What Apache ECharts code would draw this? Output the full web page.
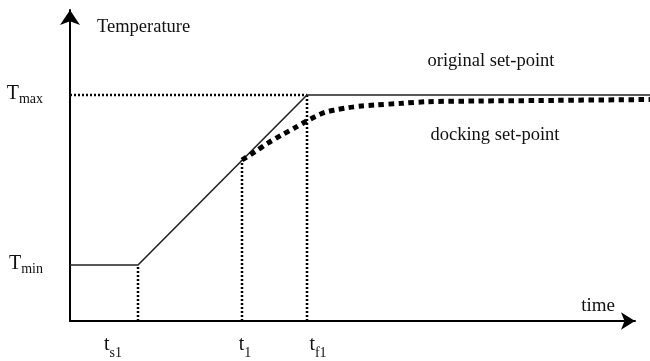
<!DOCTYPE html>
<html>
<head>
<meta charset="utf-8">
<script src="https://cdn.jsdelivr.net/npm/echarts@6/dist/echarts.min.js"></script>
<style>html,body{margin:0;padding:0;background:#fff}#c{width:650px;height:361px}</style>
</head>
<body>
<div id="c"></div>
<script>
// Time ticks: t_s1, t_1, t_f1 ; temperature ticks: T_min, T_max
const timeTicks = [68, 172, 237];
const timeTickMain = ['t', 't', 't'];
const timeTickSub = ['s1', '1', 'f1'];
const tempTicks = [56, 226];
const tempTickMain = ['T', 'T'];
const tempTickSub = ['min', 'max'];

// original set-point (solid)
const originalX = [0, 68, 237, 580];
const originalY = [56, 56, 226, 226];

// docking set-point (thick dashed)
const dockingX = [172, 185, 198, 211.7, 225, 236.7, 245, 255, 265, 278, 291.7, 305, 331.7, 358, 410, 470, 580];
const dockingY = [161, 169.3, 178, 186, 193.3, 200, 204.3, 208.7, 211, 213.3, 215, 216, 217.7, 219.3, 220, 220.5, 221.5];

const FONT = 'Liberation Serif';
const zip = (xs, ys) => xs.map((x, i) => [x, ys[i]]);

// dotted guides from the ticks
const guideTops = [tempTicks[0], dockingY[0], tempTicks[1]];
const guideSeries = timeTicks.map((t, i) => ({
  type: 'line', silent: true, symbol: 'none', clip: false, xAxisIndex: 0, yAxisIndex: 0,
  data: [[t, 0], [t, guideTops[i]]],
  lineStyle: { color: '#000', width: 2.5, type: [2, 2] }
}));
guideSeries.push({
  type: 'line', silent: true, symbol: 'none', clip: false, xAxisIndex: 0, yAxisIndex: 0,
  data: [[0, tempTicks[1]], [timeTicks[2], tempTicks[1]]],
  lineStyle: { color: '#000', width: 2.5, type: [2, 2] }
});

const timeShift = [-25, 3, 11];
const xRich = {
  m: { fontFamily: FONT, fontSize: 20, color: '#111', verticalAlign: 'bottom', padding: [0, 0, 5, 0] },
  s: { fontFamily: FONT, fontSize: 14, color: '#111', verticalAlign: 'bottom' }
};
timeShift.forEach((s, i) => { xRich['sp' + i] = { width: Math.abs(s) * 2, fontSize: 13 }; });

const yRich = {
  m: { fontFamily: FONT, fontSize: 20, color: '#111', verticalAlign: 'bottom', padding: [0, 0, 3, 0] },
  s: { fontFamily: FONT, fontSize: 14, color: '#111', verticalAlign: 'bottom' }
};

const hiddenAxis = { show: false, axisLine: { show: false }, axisTick: { show: false }, axisLabel: { show: false }, splitLine: { show: false } };

const chart = echarts.init(document.getElementById('c'), null, { renderer: 'canvas' });
chart.setOption({
  animation: false,
  backgroundColor: '#fff',
  grid: [
    // grid 0: data area, reaching the right edge of the picture
    { left: 70, right: 0, top: 10, bottom: 40, containLabel: false, outerBoundsMode: 'none' },
    // grid 1: drawn axes with arrows
    { left: 70, right: 15, top: 10, bottom: 40, containLabel: false, outerBoundsMode: 'none' }
  ],
  xAxis: [
    Object.assign({ type: 'value', min: 0, max: 580, gridIndex: 0 }, hiddenAxis),
    {
      type: 'value', min: 0, max: 565, gridIndex: 1,
      name: 'time', nameLocation: 'end', nameGap: -20,
      nameTextStyle: { fontFamily: FONT, fontSize: 19, color: '#111', align: 'right', verticalAlign: 'bottom', padding: [0, 0, 5, 0] },
      axisLine: { show: true, symbol: ['none', 'arrow'], symbolSize: [13, 14], lineStyle: { color: '#000', width: 2 } },
      axisTick: { show: false },
      splitLine: { show: false },
      axisLabel: {
        customValues: timeTicks,
        margin: 14,
        formatter: (v) => {
          const i = timeTicks.indexOf(v);
          if (i < 0) return '';
          const body = '{m|' + timeTickMain[i] + '}{s|' + timeTickSub[i] + '}';
          return timeShift[i] < 0 ? body + '{sp' + i + '|}' : '{sp' + i + '|}' + body;
        },
        rich: xRich
      }
    }
  ],
  yAxis: [
    Object.assign({ type: 'value', min: 0, max: 311, gridIndex: 0 }, hiddenAxis),
    {
      type: 'value', min: 0, max: 311, gridIndex: 1,
      name: 'Temperature', nameLocation: 'end', nameGap: -17,
      nameTextStyle: { fontFamily: FONT, fontSize: 18.5, color: '#111', align: 'left', verticalAlign: 'middle', padding: [0, 0, 0, 27] },
      axisLine: { show: true, symbol: ['none', 'arrow'], symbolSize: [15, 15], lineStyle: { color: '#000', width: 2 } },
      axisTick: { show: false },
      splitLine: { show: false },
      axisLabel: {
        customValues: tempTicks,
        margin: 27,
        formatter: (v) => {
          const i = tempTicks.indexOf(v);
          if (i < 0) return '';
          return '{m|' + tempTickMain[i] + '}{s|' + tempTickSub[i] + '}';
        },
        rich: yRich
      }
    }
  ],
  series: guideSeries.concat([
    {
      name: 'original set-point', type: 'line', symbol: 'none', clip: false, xAxisIndex: 0, yAxisIndex: 0,
      data: zip(originalX, originalY),
      lineStyle: { color: '#222', width: 1.6 },
      markPoint: {
        symbol: 'circle', symbolSize: 0, silent: true,
        label: { show: true, position: 'inside', fontFamily: FONT, fontSize: 18.5, color: '#111' },
        data: [{ coord: [421, 260], value: 'original set-point', label: { formatter: 'original set-point' } }]
      }
    },
    {
      name: 'docking set-point', type: 'line', symbol: 'none', clip: false, smooth: 0.3, xAxisIndex: 0, yAxisIndex: 0,
      data: zip(dockingX, dockingY),
      lineStyle: { color: '#000', width: 5, type: [5.5, 4.5] },
      markPoint: {
        symbol: 'circle', symbolSize: 0, silent: true,
        label: { show: true, position: 'inside', fontFamily: FONT, fontSize: 18.5, color: '#111' },
        data: [{ coord: [425, 186], value: 'docking set-point', label: { formatter: 'docking set-point' } }]
      }
    }
  ])
});
</script>
</body>
</html>
